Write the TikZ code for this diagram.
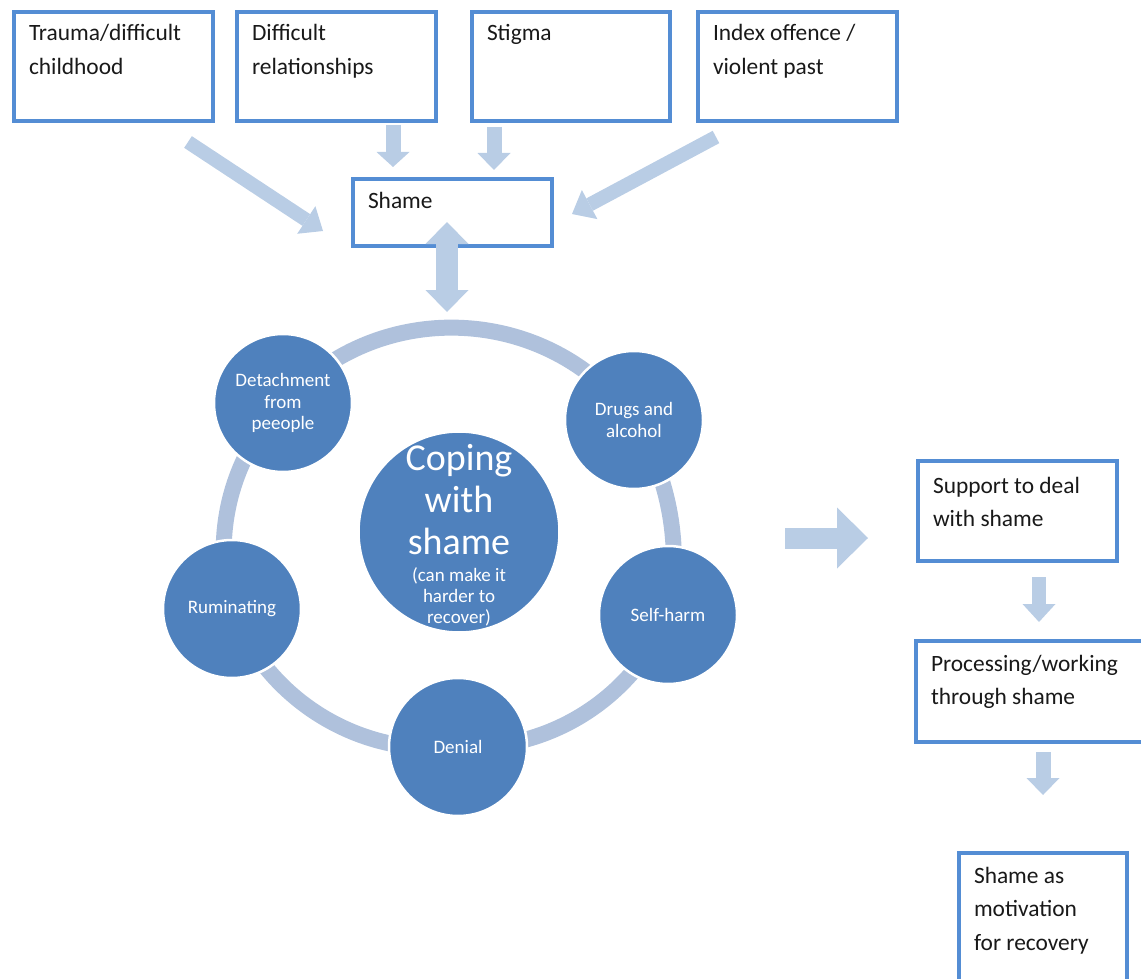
\documentclass[tikz,border=0pt]{standalone}
\usepackage{fontspec}
\setmainfont{Carlito}
\usetikzlibrary{arrows.meta}
\definecolor{boxblue}{RGB}{84,141,212}
\definecolor{arrowblue}{RGB}{185,205,229}
\definecolor{ringblue}{RGB}{175,193,220}
\definecolor{circblue}{RGB}{79,129,189}
\definecolor{txt}{RGB}{25,25,25}
\newcommand{\boxcontent}[4]{\parbox[b][#2][t]{#1}{\raggedright\leftskip=15pt\fontsize{23.4}{33.5}\selectfont\rule{0pt}{#3}#4}}
\pgfdeclarelayer{bg}
\pgfsetlayers{bg,main}
\begin{document}
\begin{tikzpicture}[x=1pt,y=1pt,
  tbox/.style={draw=boxblue, line width=4pt, inner sep=0pt, anchor=north west, fill=white, text=txt},
  fat/.style n args={3}{draw=arrowblue, line width=#1, -{Triangle[width=#2,length=#3,line width=0pt]}},
  fatboth/.style n args={3}{draw=arrowblue, line width=#1, {Triangle[width=#2,length=#3,line width=0pt]}-{Triangle[width=#2,length=#3,line width=0pt]}},
  ring/.style={draw=ringblue, line width=16pt},
  bub/.style={circle, fill=circblue, draw=white, line width=2.5pt, minimum size=138pt, inner sep=0pt, text=white, align=center, font=\fontsize{19}{21.5}\selectfont},
  coretxt/.style={inner sep=0pt, text=white}
]
\useasboundingbox (0,0) rectangle (1141,-979);
\clip (0,0) rectangle (1141,-979);

% top boxes
\node[tbox] (b1) at (12,-10) {\boxcontent{199pt}{109pt}{29pt}{Trauma/difficult\\childhood}};
\node[tbox] (b2) at (235,-10) {\boxcontent{199pt}{109pt}{29pt}{Difficult\\relationships}};
\node[tbox] (b3) at (470,-10) {\boxcontent{198pt}{109pt}{29pt}{Stigma}};
\node[tbox] (b4) at (696,-10) {\boxcontent{199pt}{109pt}{29pt}{Index offence /\\violent past}};
\node[tbox] (shame) at (351,-177) {\boxcontent{199pt}{67pt}{29pt}{Shame}};

% right column
\node[tbox] (support) at (916,-459) {\boxcontent{199pt}{100pt}{32pt}{Support to deal\\with shame}};
\node[tbox] (process) at (914,-639) {\boxcontent{240pt}{101pt}{30pt}{Processing/working\\through shame}};
\node[tbox] (motiv) at (957,-851) {\boxcontent{168pt}{160pt}{30pt}{Shame as\\motivation\\for recovery}};

% cycle circles
\node[bub] (det) at (283,-403) {Detachment\\from\\peeople};
\node[bub] (drugs) at (634,-420) {Drugs and\\alcohol};
\node[bub] (self) at (668,-615) {Self-harm};
\node[bub] (denial) at (458,-747) {Denial};
\node[bub] (rum) at (232,-609) {Ruminating};
\node[bub, minimum size=201pt] (core) at (459,-532) {};
\node[coretxt, anchor=base, font=\fontsize{38}{42}\selectfont] (ct) at (459,-470) {\begin{tabular}[t]{@{}c@{}}Coping\\with\\shame\end{tabular}};
\node[coretxt, anchor=base, font=\fontsize{19}{21}\selectfont] (cs) at (459,-581) {\begin{tabular}[t]{@{}c@{}}(can make it\\harder to\\recover)\end{tabular}};

% ring connectors
\begin{pgfonlayer}{bg}
\draw[ring] (det.center) to[bend left=51, looseness=1.045] (drugs.center);
\draw[ring] (drugs.center) to[bend left=22, looseness=0.884] (self.center);
\draw[ring] (self.center) to[bend left=35, looseness=0.936] (denial.center);
\draw[ring] (denial.center) to[bend left=37.5, looseness=0.949] (rum.center);
\draw[ring] (rum.center) to[bend left=30, looseness=0.912] (det.center);
\end{pgfonlayer}

% arrows
\coordinate (a1s) at (188,-142); \coordinate (a1e) at (323,-231);
\coordinate (a2s) at (393,-125); \coordinate (a2e) at (393,-167);
\coordinate (a3s) at (494,-127); \coordinate (a3e) at (494,-170);
\coordinate (a4s) at (716,-137); \coordinate (a4e) at (572,-214);
\coordinate (d1) at (447,-222); \coordinate (d2) at (447,-312);
\coordinate (r1) at (785,-538); \coordinate (r2) at (868,-538);
\coordinate (a5s) at (1039,-577); \coordinate (a5e) at (1039,-622);
\coordinate (a6s) at (1043,-752); \coordinate (a6e) at (1043,-795);

\draw[fat={14pt}{33pt}{20pt}] (a1s) -- (a1e);
\draw[fat={15pt}{33pt}{15pt}] (a2s) -- (a2e);
\draw[fat={15pt}{33pt}{17pt}] (a3s) -- (a3e);
\draw[fat={14pt}{33pt}{20pt}] (a4s) -- (a4e);
\draw[fatboth={22pt}{43pt}{22pt}] (d1) -- (d2);
\draw[fat={21pt}{61pt}{31pt}] (r1) -- (r2);
\draw[fat={14pt}{33pt}{18pt}] (a5s) -- (a5e);
\draw[fat={15pt}{33pt}{17pt}] (a6s) -- (a6e);
\end{tikzpicture}
\end{document}
